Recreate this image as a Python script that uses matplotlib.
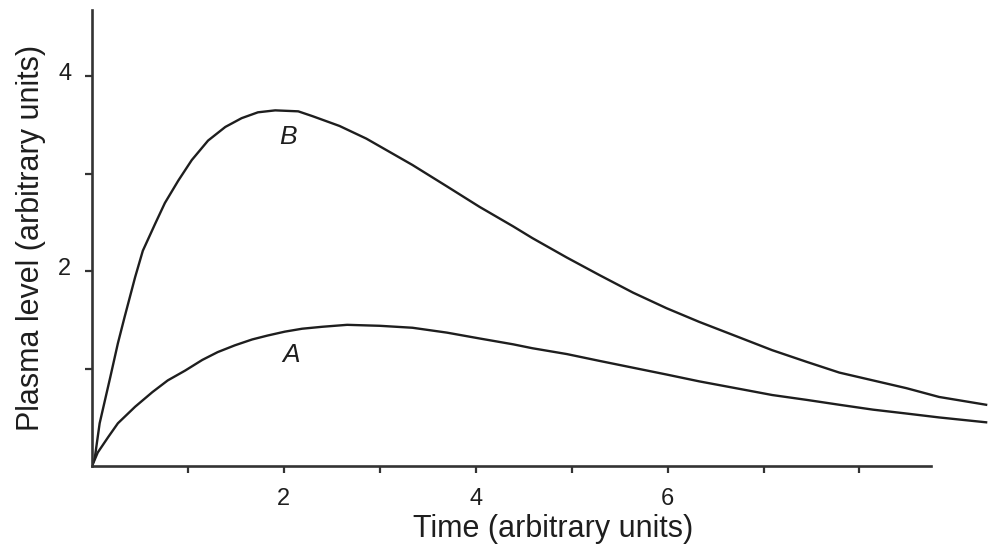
import numpy as np
import matplotlib
matplotlib.use("Agg")
import matplotlib.pyplot as plt
from matplotlib.transforms import ScaledTranslation

# plasma level readings for the two doses
time_b = [0, 0.03, 0.08, 0.19, 0.27, 0.34, 0.45, 0.53, 0.66, 0.76, 0.90, 1.04,
          1.21, 1.39, 1.56, 1.73, 1.91, 2.15, 2.30, 2.58, 2.86, 3.18, 3.34, 3.70,
          4.04, 4.39, 4.59, 4.95, 5.29, 5.64, 5.99, 6.33, 6.75, 7.09, 7.45, 7.79,
          8.14, 8.49, 8.83, 9.32]
level_b = [0, 0.09, 0.44, 0.91, 1.26, 1.53, 1.94, 2.21, 2.49, 2.70, 2.93, 3.14,
           3.34, 3.48, 3.57, 3.63, 3.65, 3.64, 3.59, 3.49, 3.36, 3.18, 3.09, 2.87,
           2.66, 2.46, 2.34, 2.14, 1.96, 1.78, 1.62, 1.48, 1.32, 1.19, 1.07, 0.96,
           0.88, 0.80, 0.71, 0.63]

time_a = [0, 0.06, 0.17, 0.27, 0.45, 0.63, 0.79, 0.97, 1.15, 1.31, 1.49, 1.67,
          1.83, 2.01, 2.19, 2.40, 2.66, 3.0, 3.34, 3.70, 4.04, 4.39, 4.59, 4.95,
          5.29, 5.64, 5.99, 6.33, 6.82, 7.09, 7.45, 7.79, 8.14, 8.49, 8.83, 9.32]
level_a = [0, 0.14, 0.30, 0.44, 0.61, 0.76, 0.88, 0.98, 1.09, 1.17, 1.24, 1.30,
           1.34, 1.38, 1.41, 1.43, 1.45, 1.44, 1.42, 1.37, 1.31, 1.25, 1.21, 1.15,
           1.08, 1.01, 0.94, 0.87, 0.78, 0.73, 0.68, 0.63, 0.58, 0.54, 0.50, 0.45]

x_ticks = [1, 2, 3, 4, 5, 6, 7, 8]
x_ticklabels = ['', '2', '', '4', '', '6', '', '']
y_ticks = [1, 2, 3, 4]
y_ticklabels = ['', '2', '', '4']

plt.rcParams['font.family'] = ['Liberation Sans', 'DejaVu Sans']

fig = plt.figure(figsize=(9.89, 5.53), dpi=100)
ax = fig.add_axes([0.093, 0.157, 0.907, 0.825])

ink = '#1e1e1e'
ax.plot(time_b, level_b, color=ink, lw=1.7, solid_joinstyle='round')
ax.plot(time_a, level_a, color=ink, lw=1.7, solid_joinstyle='round')

ax.text(2.04, 3.38, 'B', style='italic', fontsize=19, ha='center', va='center', color=ink)
ax.text(2.08, 1.14, 'A', style='italic', fontsize=19, ha='center', va='center', color=ink)

ax.set_xlim(0, 9.35)
ax.set_ylim(0, 4.68)

for side in ['top', 'right']:
    ax.spines[side].set_visible(False)
for side in ['left', 'bottom']:
    ax.spines[side].set_linewidth(1.9)
    ax.spines[side].set_color('#333333')
ax.spines['bottom'].set_bounds(0, 8.75)

ax.set_xticks(x_ticks)
ax.set_xticklabels(x_ticklabels)
ax.set_yticks(y_ticks)
ax.set_yticklabels(y_ticklabels)
ax.tick_params(axis='both', direction='out', length=5, width=1.6, color='#333333',
               labelsize=17, labelcolor=ink)
ax.tick_params(axis='y', pad=10)
ax.tick_params(axis='x', pad=11)

# y tick numbers sit a little above their ticks
shift = ScaledTranslation(0, 5 / 100, fig.dpi_scale_trans)
for lab in ax.get_yticklabels():
    lab.set_transform(lab.get_transform() + shift)

ax.set_xlabel('Time (arbitrary units)', fontsize=22, color=ink)
ax.set_ylabel('Plasma level (arbitrary units)', fontsize=22, color=ink)
ax.xaxis.set_label_coords(0.514, -0.105)
ax.yaxis.set_label_coords(-0.051, 0.5)

fig.savefig('out.png', dpi=100)
